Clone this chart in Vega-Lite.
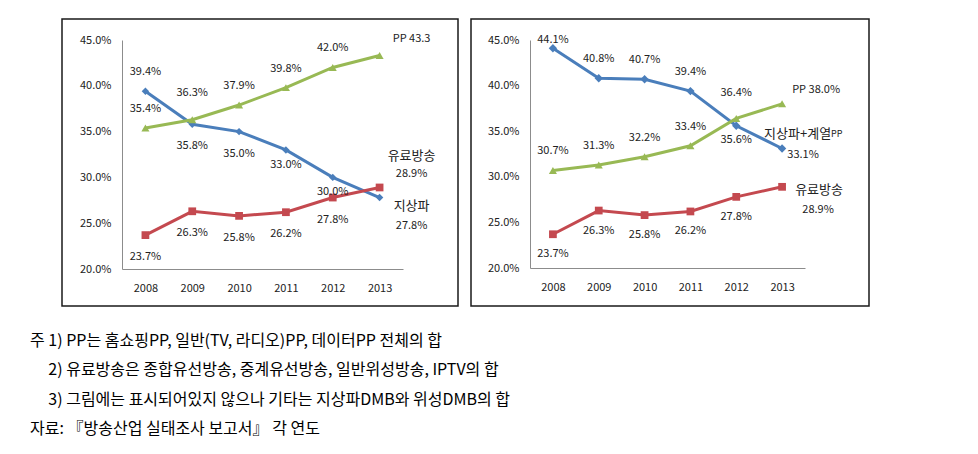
{
  "$schema": "https://vega.github.io/schema/vega-lite/v6.json",
  "padding": {"left": 30, "top": 18, "right": 0, "bottom": 0},
  "datasets": {
    "left": [
      {"year": "2008", "series": "지상파", "value": 39.4},
      {"year": "2009", "series": "지상파", "value": 35.8},
      {"year": "2010", "series": "지상파", "value": 35.0},
      {"year": "2011", "series": "지상파", "value": 33.0},
      {"year": "2012", "series": "지상파", "value": 30.0},
      {"year": "2013", "series": "지상파", "value": 27.8},
      {"year": "2008", "series": "유료방송", "value": 23.7},
      {"year": "2009", "series": "유료방송", "value": 26.3},
      {"year": "2010", "series": "유료방송", "value": 25.8},
      {"year": "2011", "series": "유료방송", "value": 26.2},
      {"year": "2012", "series": "유료방송", "value": 27.8},
      {"year": "2013", "series": "유료방송", "value": 28.9},
      {"year": "2008", "series": "PP", "value": 35.4},
      {"year": "2009", "series": "PP", "value": 36.3},
      {"year": "2010", "series": "PP", "value": 37.9},
      {"year": "2011", "series": "PP", "value": 39.8},
      {"year": "2012", "series": "PP", "value": 42.0},
      {"year": "2013", "series": "PP", "value": 43.3}
    ],
    "right": [
      {"year": "2008", "series": "지상파+계열PP", "value": 44.1},
      {"year": "2009", "series": "지상파+계열PP", "value": 40.8},
      {"year": "2010", "series": "지상파+계열PP", "value": 40.7},
      {"year": "2011", "series": "지상파+계열PP", "value": 39.4},
      {"year": "2012", "series": "지상파+계열PP", "value": 35.6},
      {"year": "2013", "series": "지상파+계열PP", "value": 33.1},
      {"year": "2008", "series": "유료방송", "value": 23.7},
      {"year": "2009", "series": "유료방송", "value": 26.3},
      {"year": "2010", "series": "유료방송", "value": 25.8},
      {"year": "2011", "series": "유료방송", "value": 26.2},
      {"year": "2012", "series": "유료방송", "value": 27.8},
      {"year": "2013", "series": "유료방송", "value": 28.9},
      {"year": "2008", "series": "PP", "value": 30.7},
      {"year": "2009", "series": "PP", "value": 31.3},
      {"year": "2010", "series": "PP", "value": 32.2},
      {"year": "2011", "series": "PP", "value": 33.4},
      {"year": "2012", "series": "PP", "value": 36.4},
      {"year": "2013", "series": "PP", "value": 38.0}
    ]
  },
  "config": {
    "font": "Noto Sans CJK KR",
    "view": {"stroke": "#1a1a1a", "strokeWidth": 1.5},
    "axis": {"grid": false, "ticks": false, "domainColor": "#8c8c8c", "domainWidth": 1, "labelColor": "#222", "labelFontSize": 11, "labelFont": "Noto Sans CJK KR", "title": null},
    "text": {"fontSize": 11, "color": "#222", "font": "Noto Sans CJK KR"}
  },
  "spacing": 11,
  "title": {
    "text": [
      "주 1) PP는 홈쇼핑PP, 일반(TV, 라디오)PP, 데이터PP 전체의 합",
      "\u3164\u00a02) 유료방송은 종합유선방송, 중계유선방송, 일반위성방송, IPTV의 합",
      "\u3164\u00a03) 그림에는 표시되어있지 않으나 기타는 지상파DMB와 위성DMB의 합",
      "자료: 『방송산업 실태조사 보고서』 각 연도"
    ],
    "orient": "bottom",
    "anchor": "start",
    "frame": "group",
    "dx": -32,
    "offset": 26,
    "fontSize": 16,
    "lineHeight": 29.5,
    "font": "Noto Sans CJK KR",
    "fontWeight": "normal",
    "color": "#000"
  },
  "hconcat": [
    {
      "width": 396,
      "height": 287,
      "data": {"name": "left"},
      "transform": [{"calculate": "format(datum.value, '.1f') + '%'", "as": "label"}],
      "encoding": {
        "x": {"field": "year", "type": "ordinal", "scale": {"type": "point", "range": [60, 341], "padding": 0.5}, "axis": {"orient": "bottom", "offset": -37, "labelAngle": 0, "labelPadding": 13}},
        "y": {"field": "value", "type": "quantitative", "scale": {"domain": [20, 45], "range": [250, 21], "nice": false, "zero": false}, "axis": {"offset": -60, "values": [20, 25, 30, 35, 40, 45], "labelExpr": "format(datum.value, '.1f') + '%'", "labelPadding": 11}}
      },
      "layer": [
        {
          "mark": {"type": "line", "strokeWidth": 3},
          "encoding": {"color": {"field": "series", "type": "nominal", "scale": {"domain": ["지상파", "유료방송", "PP"], "range": ["#4A7EBB", "#C4494F", "#98B954"]}, "legend": null}}
        },
        {
          "mark": {"type": "point", "filled": true, "opacity": 1},
          "encoding": {
            "color": {"field": "series", "type": "nominal", "scale": {"domain": ["지상파", "유료방송", "PP"], "range": ["#4A7EBB", "#C4494F", "#98B954"]}, "legend": null},
            "shape": {"field": "series", "type": "nominal", "scale": {"domain": ["지상파", "유료방송", "PP"], "range": ["diamond", "square", "triangle-up"]}, "legend": null},
            "size": {"field": "series", "type": "nominal", "scale": {"domain": ["지상파", "유료방송", "PP"], "range": [55, 70, 60]}, "legend": null}
          }
        },
        {
          "transform": [{"filter": "(datum.series == 'PP' && datum.year != '2009' && datum.year != '2013') || (datum.series == '지상파' && datum.year == '2008')"}],
          "mark": {"type": "text", "dy": -19},
          "encoding": {"text": {"field": "label"}}
        },
        {
          "transform": [{"filter": "datum.series == 'PP' && datum.year == '2009'"}],
          "mark": {"type": "text", "dy": -27},
          "encoding": {"text": {"field": "label"}}
        },
        {
          "transform": [{"filter": "(datum.series == '유료방송' && datum.year != '2013') || (datum.series == '지상파' && (datum.year == '2009' || datum.year == '2010'))"}],
          "mark": {"type": "text", "dy": 22},
          "encoding": {"text": {"field": "label"}}
        },
        {
          "transform": [{"filter": "datum.series == '지상파' && (datum.year == '2011' || datum.year == '2012')"}],
          "mark": {"type": "text", "dy": 15},
          "encoding": {"text": {"field": "label"}}
        },
        {
          "transform": [{"filter": "datum.series == 'PP' && datum.year == '2013'"}, {"calculate": "datum.series + ' ' + format(datum.value, '.1f')", "as": "endlabel"}],
          "mark": {"type": "text", "dx": 32, "dy": -17},
          "encoding": {"text": {"field": "endlabel"}}
        },
        {
          "transform": [{"filter": "datum.series == '유료방송' && datum.year == '2013'"}],
          "mark": {"type": "text", "dx": 32, "dy": -31, "fontSize": 13},
          "encoding": {"text": {"field": "series"}}
        },
        {
          "transform": [{"filter": "datum.series == '유료방송' && datum.year == '2013'"}],
          "mark": {"type": "text", "dx": 32, "dy": -13},
          "encoding": {"text": {"field": "label"}}
        },
        {
          "transform": [{"filter": "datum.series == '지상파' && datum.year == '2013'"}],
          "mark": {"type": "text", "dx": 32, "dy": 8, "fontSize": 13},
          "encoding": {"text": {"field": "series"}}
        },
        {
          "transform": [{"filter": "datum.series == '지상파' && datum.year == '2013'"}],
          "mark": {"type": "text", "dx": 32, "dy": 28},
          "encoding": {"text": {"field": "label"}}
        }
      ]
    },
    {
      "width": 398,
      "height": 287,
      "data": {"name": "right"},
      "transform": [{"calculate": "format(datum.value, '.1f') + '%'", "as": "label"}],
      "encoding": {
        "x": {"field": "year", "type": "ordinal", "scale": {"type": "point", "range": [59, 334], "padding": 0.5}, "axis": {"orient": "bottom", "offset": -38, "labelAngle": 0, "labelPadding": 13}},
        "y": {"field": "value", "type": "quantitative", "scale": {"domain": [20, 45], "range": [249, 21], "nice": false, "zero": false}, "axis": {"offset": -59, "values": [20, 25, 30, 35, 40, 45], "labelExpr": "format(datum.value, '.1f') + '%'", "labelPadding": 11}}
      },
      "layer": [
        {
          "mark": {"type": "line", "strokeWidth": 3},
          "encoding": {"color": {"field": "series", "type": "nominal", "scale": {"domain": ["지상파+계열PP", "유료방송", "PP"], "range": ["#4A7EBB", "#C4494F", "#98B954"]}, "legend": null}}
        },
        {
          "mark": {"type": "point", "filled": true, "opacity": 1},
          "encoding": {
            "color": {"field": "series", "type": "nominal", "scale": {"domain": ["지상파+계열PP", "유료방송", "PP"], "range": ["#4A7EBB", "#C4494F", "#98B954"]}, "legend": null},
            "shape": {"field": "series", "type": "nominal", "scale": {"domain": ["지상파+계열PP", "유료방송", "PP"], "range": ["diamond", "square", "triangle-up"]}, "legend": null},
            "size": {"field": "series", "type": "nominal", "scale": {"domain": ["지상파+계열PP", "유료방송", "PP"], "range": [55, 70, 60]}, "legend": null}
          }
        },
        {
          "transform": [{"filter": "datum.series == '지상파+계열PP' && datum.year == '2008'"}],
          "mark": {"type": "text", "dy": -8},
          "encoding": {"text": {"field": "label"}}
        },
        {
          "transform": [{"filter": "(datum.series == '지상파+계열PP' && (datum.year == '2009' || datum.year == '2010' || datum.year == '2011')) || (datum.series == 'PP' && datum.year != '2012' && datum.year != '2013')"}],
          "mark": {"type": "text", "dy": -19},
          "encoding": {"text": {"field": "label"}}
        },
        {
          "transform": [{"filter": "datum.series == 'PP' && datum.year == '2012'"}],
          "mark": {"type": "text", "dy": -25},
          "encoding": {"text": {"field": "label"}}
        },
        {
          "transform": [{"filter": "datum.series == '지상파+계열PP' && datum.year == '2012'"}],
          "mark": {"type": "text", "dy": 14},
          "encoding": {"text": {"field": "label"}}
        },
        {
          "transform": [{"filter": "datum.series == '유료방송' && datum.year != '2013'"}],
          "mark": {"type": "text", "dy": 20},
          "encoding": {"text": {"field": "label"}}
        },
        {
          "transform": [{"filter": "datum.series == '지상파+계열PP' && datum.year == '2013'"}],
          "mark": {"type": "text", "dx": 21, "dy": 6},
          "encoding": {"text": {"field": "label"}}
        },
        {
          "transform": [{"filter": "datum.series == '지상파+계열PP' && datum.year == '2013'"}, {"calculate": "replace(datum.series, 'PP', '')", "as": "namepart"}],
          "mark": {"type": "text", "dx": -18, "dy": -15, "fontSize": 13, "align": "left"},
          "encoding": {"text": {"field": "namepart"}}
        },
        {
          "transform": [{"filter": "datum.series == '지상파+계열PP' && datum.year == '2013'"}, {"calculate": "'PP'", "as": "namepart"}],
          "mark": {"type": "text", "dx": 49, "dy": -15, "fontSize": 9, "align": "left"},
          "encoding": {"text": {"field": "namepart"}}
        },
        {
          "transform": [{"filter": "datum.series == 'PP' && datum.year == '2013'"}, {"calculate": "datum.series + ' ' + format(datum.value, '.1f') + '%'", "as": "endlabel"}],
          "mark": {"type": "text", "dx": 34, "dy": -14},
          "encoding": {"text": {"field": "endlabel"}}
        },
        {
          "transform": [{"filter": "datum.series == '유료방송' && datum.year == '2013'"}],
          "mark": {"type": "text", "dx": 37, "dy": 3, "fontSize": 13},
          "encoding": {"text": {"field": "series"}}
        },
        {
          "transform": [{"filter": "datum.series == '유료방송' && datum.year == '2013'"}],
          "mark": {"type": "text", "dx": 36, "dy": 23},
          "encoding": {"text": {"field": "label"}}
        }
      ]
    }
  ]
}
